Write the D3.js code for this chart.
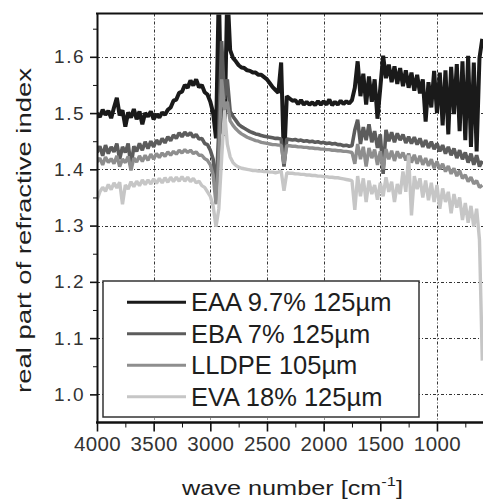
<!DOCTYPE html>
<html><head><meta charset="utf-8">
<script src="https://cdn.jsdelivr.net/npm/d3@7"></script>
<style>html,body{margin:0;padding:0;background:#fff;} svg{display:block;font-family:"Liberation Sans",Arial,Helvetica,sans-serif;}</style>
</head><body><svg id="c" width="483" height="499"></svg>
<script>
// ---- data ----
const wavenumbers = [
4000,3975,3950,3925,3900,3875,3850,3825,3800,3775,
3750,3725,3700,3675,3650,3625,3600,3575,3550,3525,
3500,3475,3450,3425,3400,3375,3350,3325,3300,3275,
3250,3225,3200,3175,3150,3125,3100,3075,3050,3025,
3000,2975,2950,2925,2900,2875,2850,2825,2800,2775,
2750,2725,2700,2675,2650,2625,2600,2575,2550,2525,
2500,2475,2450,2425,2400,2375,2350,2325,2300,2275,
2250,2225,2200,2175,2150,2125,2100,2075,2050,2025,
2000,1975,1950,1925,1900,1875,1850,1825,1800,1775,
1750,1725,1700,1675,1650,1625,1600,1575,1550,1525,
1500,1475,1450,1425,1400,1375,1350,1325,1300,1275,
1250,1225,1200,1175,1150,1125,1100,1075,1050,1025,
1000,975,950,925,900,875,850,825,800,775,
750,725,700,675,650,625,600];

const eaa = [
1.500,1.493,1.506,1.497,1.504,1.491,1.510,1.527,1.496,1.505,
1.476,1.501,1.492,1.507,1.489,1.503,1.480,1.500,1.494,1.503,
1.489,1.498,1.492,1.501,1.497,1.506,1.510,1.522,1.524,1.536,
1.538,1.550,1.545,1.558,1.549,1.560,1.546,1.550,1.537,1.533,
1.520,1.500,1.455,1.720,1.470,1.460,1.720,1.612,1.598,1.592,
1.585,1.581,1.580,1.576,1.575,1.572,1.572,1.568,1.568,1.564,
1.560,1.553,1.546,1.541,1.536,1.590,1.412,1.530,1.526,1.522,
1.523,1.516,1.523,1.515,1.520,1.515,1.519,1.514,1.521,1.515,
1.521,1.515,1.524,1.514,1.520,1.515,1.522,1.516,1.521,1.517,
1.523,1.545,1.592,1.530,1.570,1.515,1.565,1.520,1.560,1.490,
1.545,1.602,1.562,1.586,1.555,1.583,1.552,1.580,1.548,1.576,
1.545,1.572,1.540,1.568,1.535,1.560,1.485,1.555,1.510,1.575,
1.500,1.572,1.478,1.576,1.462,1.582,1.498,1.587,1.468,1.592,
1.452,1.602,1.440,1.590,1.432,1.598,1.632];

const eba = [
1.430,1.441,1.424,1.443,1.428,1.440,1.431,1.446,1.418,1.440,
1.430,1.446,1.404,1.441,1.432,1.446,1.434,1.449,1.437,1.450,
1.440,1.452,1.444,1.455,1.447,1.458,1.451,1.461,1.455,1.465,
1.458,1.466,1.460,1.465,1.457,1.462,1.454,1.455,1.446,1.444,
1.434,1.418,1.358,1.470,1.628,1.525,1.560,1.503,1.494,1.487,
1.480,1.476,1.473,1.470,1.467,1.465,1.463,1.462,1.460,1.459,
1.458,1.457,1.456,1.455,1.455,1.454,1.405,1.454,1.453,1.452,
1.453,1.451,1.452,1.450,1.451,1.449,1.450,1.448,1.449,1.447,
1.448,1.446,1.447,1.445,1.446,1.444,1.444,1.442,1.443,1.441,
1.442,1.470,1.488,1.445,1.475,1.452,1.480,1.448,1.468,1.438,
1.462,1.392,1.470,1.450,1.466,1.448,1.464,1.452,1.462,1.447,
1.458,1.446,1.457,1.444,1.455,1.440,1.452,1.438,1.449,1.436,
1.446,1.432,1.443,1.428,1.440,1.425,1.437,1.420,1.434,1.418,
1.430,1.412,1.428,1.408,1.425,1.405,1.415];

const lldpe = [
1.413,1.420,1.408,1.422,1.412,1.419,1.410,1.424,1.405,1.418,
1.412,1.423,1.398,1.420,1.413,1.424,1.414,1.425,1.416,1.427,
1.418,1.428,1.421,1.429,1.423,1.431,1.425,1.432,1.427,1.434,
1.429,1.435,1.430,1.434,1.428,1.431,1.425,1.425,1.419,1.416,
1.408,1.390,1.338,1.420,1.560,1.505,1.520,1.486,1.478,1.472,
1.467,1.463,1.460,1.457,1.455,1.453,1.451,1.450,1.448,1.447,
1.446,1.445,1.444,1.444,1.443,1.443,1.410,1.442,1.442,1.441,
1.441,1.440,1.440,1.439,1.439,1.438,1.438,1.437,1.437,1.436,
1.436,1.435,1.435,1.434,1.434,1.433,1.433,1.432,1.432,1.431,
1.430,1.410,1.445,1.418,1.440,1.405,1.438,1.420,1.435,1.408,
1.432,1.400,1.436,1.418,1.433,1.415,1.432,1.420,1.430,1.416,
1.428,1.412,1.426,1.410,1.424,1.408,1.420,1.406,1.418,1.402,
1.414,1.400,1.410,1.396,1.406,1.392,1.402,1.388,1.398,1.384,
1.390,1.378,1.386,1.374,1.380,1.368,1.372];

const eva = [
1.345,1.360,1.368,1.361,1.373,1.364,1.376,1.367,1.377,1.338,
1.372,1.365,1.378,1.369,1.379,1.371,1.381,1.373,1.381,1.374,
1.383,1.375,1.384,1.376,1.385,1.377,1.386,1.378,1.386,1.379,
1.387,1.379,1.386,1.378,1.384,1.376,1.379,1.371,1.368,1.360,
1.352,1.335,1.298,1.330,1.420,1.505,1.445,1.422,1.412,1.407,
1.404,1.402,1.401,1.400,1.399,1.398,1.398,1.397,1.397,1.396,
1.396,1.395,1.395,1.394,1.395,1.397,1.362,1.394,1.393,1.393,
1.392,1.392,1.391,1.391,1.390,1.390,1.389,1.389,1.388,1.388,
1.387,1.387,1.386,1.386,1.385,1.385,1.384,1.383,1.382,1.381,
1.380,1.328,1.388,1.352,1.384,1.342,1.380,1.356,1.372,1.346,
1.376,1.352,1.386,1.360,1.378,1.342,1.374,1.356,1.396,1.360,
1.425,1.318,1.388,1.365,1.384,1.350,1.380,1.345,1.376,1.342,
1.372,1.330,1.366,1.342,1.360,1.322,1.356,1.332,1.350,1.310,
1.340,1.305,1.335,1.298,1.330,1.275,1.060];

const seriesNames = ["EAA 9.7% 125µm", "EBA 7% 125µm", "LLDPE 105µm", "EVA 18% 125µm"];
const seriesColors = ["#1a1a1a", "#5c5c5c", "#8e8e8e", "#c6c6c6"];
const seriesValues = [eaa, eba, lldpe, eva];

const xTickValues = [4000, 3500, 3000, 2500, 2000, 1500, 1000];
const xMinorValues = [3750, 3250, 2750, 2250, 1750, 1250, 750];
const yTickValues = [1.0, 1.1, 1.2, 1.3, 1.4, 1.5, 1.6];
const yMinorValues = [1.05, 1.15, 1.25, 1.35, 1.45, 1.55, 1.65];

// ---- drawing ----
const svg = d3.select("#c");
const L = 97, R = 482.3, T = 13.5, B = 422.5;
const x = d3.scaleLinear().domain([4000, 600]).range([L, R]);
const y = d3.scaleLinear().domain([0.95, 1.677]).range([B, T]);
const lineWidths = [4, 3.6, 3.4, 3.4];

svg.append("defs").append("clipPath").attr("id", "clip")
  .append("rect").attr("x", L + 1).attr("y", T + 1).attr("width", 483 - L).attr("height", B - T - 2);

// grid
const grid = svg.append("g").attr("stroke", "#333").attr("stroke-width", 1)
  .attr("stroke-dasharray", "3,2,1,2");
grid.selectAll("line.v").data(xTickValues.slice(1)).join("line")
  .attr("x1", d => Math.round(x(d)) + 0.5).attr("x2", d => Math.round(x(d)) + 0.5)
  .attr("y1", T).attr("y2", B);
grid.selectAll("line.h").data(yTickValues).join("line")
  .attr("x1", L).attr("x2", 483)
  .attr("y1", d => Math.round(y(d)) + 0.5).attr("y2", d => Math.round(y(d)) + 0.5);

// data lines
const line = d3.line().x((d, i) => x(wavenumbers[i])).y(d => y(d));
const plot = svg.append("g").attr("clip-path", "url(#clip)");
seriesValues.forEach((vals, k) => {
  plot.append("path").datum(vals)
    .attr("d", line)
    .attr("fill", "none")
    .attr("stroke", seriesColors[k])
    .attr("stroke-width", lineWidths[k])
    .attr("stroke-linejoin", "bevel");
});

// legend
const lg = svg.append("g");
lg.append("rect").attr("x", 103).attr("y", 281).attr("width", 316).attr("height", 136)
  .attr("fill", "#fff").attr("stroke", "#333").attr("stroke-width", 1.5);
seriesNames.forEach((name, k) => {
  const yy = 302.3 + k * 31.5;
  lg.append("line").attr("x1", 127).attr("x2", 186).attr("y1", yy).attr("y2", yy)
    .attr("stroke", seriesColors[k]).attr("stroke-width", 3);
  lg.append("text").attr("x", 191).attr("y", yy).attr("dy", "0.36em")
    .attr("font-size", 25.5).attr("fill", "#1e1e1e").text(name);
});

// axes
const yAxis = svg.append("g").attr("transform", `translate(${L},0)`)
  .call(d3.axisLeft(y).tickValues(yTickValues).tickSize(7).tickSizeOuter(0).tickPadding(6)
    .tickFormat(d3.format(".1f")));
svg.append("g").attr("transform", `translate(${L},0)`)
  .call(d3.axisLeft(y).tickValues(yMinorValues).tickSize(4).tickFormat(""))
  .call(g => g.select(".domain").remove());
yAxis.select(".domain").attr("stroke-width", 2).attr("stroke", "#111");
yAxis.selectAll(".tick line").attr("stroke-width", 1.6);
yAxis.selectAll(".tick text").attr("font-size", 19).attr("letter-spacing", "1.5px")
  .attr("font-family", "Liberation Sans, Arial, sans-serif").attr("fill", "#333").attr("dx", "1px");

const xAxis = svg.append("g").attr("transform", `translate(0,${B})`)
  .call(d3.axisBottom(x).tickValues(xTickValues).tickSize(9).tickSizeOuter(0).tickPadding(5)
    .tickFormat(d3.format("d")));
svg.append("g").attr("transform", `translate(0,${B})`)
  .call(d3.axisBottom(x).tickValues(xMinorValues).tickSize(5).tickFormat(""))
  .call(g => g.select(".domain").remove());
xAxis.select(".domain").attr("stroke-width", 2.5).attr("stroke", "#111")
  .attr("d", `M${L - 1},0H483`);
xAxis.selectAll(".tick line").attr("stroke-width", 1.6);
xAxis.selectAll(".tick text").attr("font-size", 20.5).attr("letter-spacing", "0.4px")
  .attr("font-family", "Liberation Sans, Arial, sans-serif").attr("fill", "#333");
svg.selectAll(".tick line").attr("stroke", "#111");

// top border
svg.append("line").attr("x1", L - 1).attr("x2", 483).attr("y1", T).attr("y2", T)
  .attr("stroke", "#111").attr("stroke-width", 2);

// axis titles
svg.append("text")
  .attr("transform", "translate(31,230.5) rotate(-90)")
  .attr("text-anchor", "middle").attr("font-size", 20).attr("fill", "#1e1e1e")
  .attr("textLength", 325).attr("lengthAdjust", "spacingAndGlyphs")
  .text("real part of refractive index");

const xt = svg.append("text").attr("x", 182).attr("y", 495)
  .attr("font-size", 20).attr("fill", "#1e1e1e")
  .attr("textLength", 221).attr("lengthAdjust", "spacingAndGlyphs");
xt.append("tspan").text("wave number [cm");
xt.append("tspan").attr("font-size", 13).attr("dy", -9).text("-1");
xt.append("tspan").attr("dy", 9).text("]");
</script>
</body></html>
